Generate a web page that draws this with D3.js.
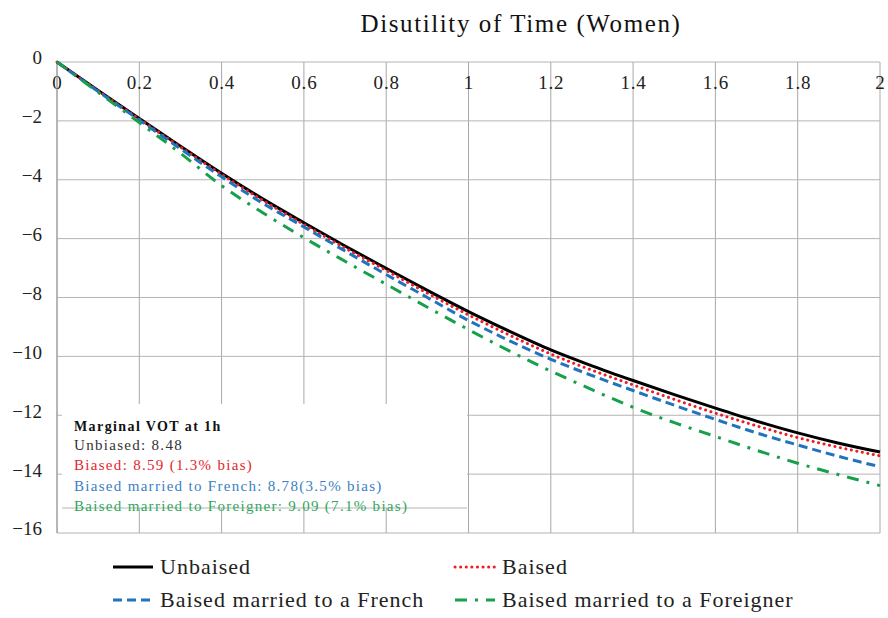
<!DOCTYPE html>
<html>
<head>
<meta charset="utf-8">
<script src="https://cdn.jsdelivr.net/npm/d3@7"></script>
<style>
  body { margin: 0; background: #fff; }
  text { font-family: 'Liberation Serif', 'DejaVu Serif', serif; }
</style>
</head>
<body>
<div id="chart"></div>
<script>
const hours = [0, 0.1, 0.2, 0.3, 0.4, 0.5, 0.6, 0.7, 0.8, 0.9, 1.0, 1.1, 1.2, 1.3, 1.4, 1.5, 1.6, 1.7, 1.8, 1.9, 2.0];
const unbiased = [0, -0.97, -1.92, -2.86, -3.78, -4.65, -5.46, -6.25, -7.01, -7.76, -8.48, -9.15, -9.78, -10.32, -10.82, -11.3, -11.76, -12.2, -12.6, -12.95, -13.25];
const biased = [0, -0.98, -1.94, -2.89, -3.82, -4.7, -5.52, -6.32, -7.08, -7.85, -8.59, -9.28, -9.92, -10.47, -10.97, -11.46, -11.93, -12.36, -12.76, -13.09, -13.38];
const biasedFrench = [0, -1.0, -1.97, -2.95, -3.9, -4.8, -5.6, -6.42, -7.22, -8.0, -8.78, -9.47, -10.1, -10.65, -11.16, -11.66, -12.14, -12.6, -13.01, -13.4, -13.75];
const biasedForeigner = [0, -1.03, -2.06, -3.1, -4.2, -5.12, -5.97, -6.77, -7.55, -8.33, -9.09, -9.82, -10.5, -11.13, -11.73, -12.25, -12.72, -13.19, -13.63, -14.02, -14.39];

const xTicks = [0, 0.2, 0.4, 0.6, 0.8, 1, 1.2, 1.4, 1.6, 1.8, 2];
const yTicks = [0, -2, -4, -6, -8, -10, -12, -14, -16];

const noteLines = [
  'Unbiased: 8.48',
  'Biased: 8.59 (1.3% bias)',
  'Biased married to French: 8.78(3.5% bias)',
  'Baised married to Foreigner: 9.09 (7.1% bias)'
];

const series = [
  { name: 'Unbaised', values: unbiased, color: '#000000', dash: null, cap: 'butt' },
  { name: 'Baised', values: biased, color: '#ee1c25', dash: '0.1 5.5', cap: 'round' },
  { name: 'Baised married to a French', values: biasedFrench, color: '#1f74bd', dash: '9 5', cap: 'butt' },
  { name: 'Baised married to a Foreigner', values: biasedForeigner, color: '#16a04c', dash: '12 8 3 8', cap: 'butt' }
];
const noteColors = ['#333333', '#e3262d', '#3b80c2', '#2ea75b'];

const width = 888, height = 618;
const margin = { top: 62, left: 57, right: 8, bottom: 85 };
const innerW = 880 - margin.left;
const innerH = 533 - margin.top;

const svg = d3.select('#chart').append('svg')
  .attr('width', width)
  .attr('height', height);

const g = svg.append('g')
  .attr('transform', `translate(${margin.left}, ${margin.top})`);

const x = d3.scaleLinear().domain([0, 2]).range([0, innerW]);
const y = d3.scaleLinear().domain([-16, 0]).range([innerH, 0]);

// title
svg.append('text')
  .attr('x', 521)
  .attr('y', 32)
  .attr('text-anchor', 'middle')
  .style('font-size', '25px')
  .style('letter-spacing', '1.6px')
  .style('fill', '#111')
  .text('Disutility of Time (Women)');

// grid
g.append('g')
  .selectAll('line')
  .data(xTicks)
  .join('line')
  .attr('x1', d => x(d)).attr('x2', d => x(d))
  .attr('y1', 0).attr('y2', innerH)
  .attr('stroke', '#a8a8a8')
  .attr('stroke-width', 1);

g.append('g')
  .selectAll('line')
  .data(yTicks)
  .join('line')
  .attr('x1', 0).attr('x2', innerW)
  .attr('y1', d => y(d)).attr('y2', d => y(d))
  .attr('stroke', '#b4b4b4')
  .attr('stroke-width', 1);

// x axis labels (sit just under the zero line)
const xAxis = g.append('g')
  .call(d3.axisBottom(x).tickValues(xTicks).tickSize(0).tickPadding(14).tickFormat(d3.format('')));
xAxis.select('.domain').remove();
xAxis.selectAll('text')
  .style('font-family', "'Liberation Serif', serif")
  .style('font-size', '19px')
  .style('letter-spacing', '0.8px')
  .style('fill', '#222');

const yAxis = g.append('g')
  .call(d3.axisLeft(y).tickValues(yTicks).tickSize(0).tickPadding(15).tickFormat(d3.format('')));
yAxis.select('.domain').remove();
yAxis.selectAll('text')
  .style('font-family', "'Liberation Serif', serif")
  .style('font-size', '19px')
  .style('fill', '#222')
  .attr('dy', '0.1em');

// left axis line
g.append('line')
  .attr('x1', 0).attr('x2', 0).attr('y1', 0).attr('y2', innerH)
  .attr('stroke', '#9a9a9a');

// lines
const line = d3.line()
  .x((d, i) => x(hours[i]))
  .y(d => y(d))
  .curve(d3.curveMonotoneX);

g.append('g')
  .selectAll('path')
  .data(series)
  .join('path')
  .attr('d', d => line(d.values))
  .attr('fill', 'none')
  .attr('stroke', d => d.color)
  .attr('stroke-width', 3)
  .attr('stroke-linecap', d => d.cap)
  .attr('stroke-dasharray', d => d.dash);

// annotation box
const note = svg.append('g');
note.append('rect')
  .attr('x', 62).attr('y', 404)
  .attr('width', 405).attr('height', 104)
  .attr('fill', '#fff');
note.append('line')
  .attr('x1', 62).attr('x2', 467).attr('y1', 508).attr('y2', 508)
  .attr('stroke', '#b4b4b4');
note.append('text')
  .attr('x', 74).attr('y', 431)
  .style('font-size', '14px')
  .style('font-weight', 'bold')
  .style('letter-spacing', '1.4px')
  .style('fill', '#111')
  .text('Marginal VOT at 1h');
note.selectAll('text.n')
  .data(noteLines)
  .join('text')
  .attr('class', 'n')
  .attr('x', 74)
  .attr('y', (d, i) => 450 + i * 20.3)
  .style('font-size', '15px')
  .style('letter-spacing', '1.3px')
  .style('fill', (d, i) => noteColors[i])
  .text(d => d);

// legend
const legendPos = [
  { x: 113, y: 567 }, { x: 455, y: 567 },
  { x: 113, y: 600 }, { x: 455, y: 600 }
];
const legend = svg.append('g')
  .selectAll('g')
  .data(series)
  .join('g')
  .attr('transform', (d, i) => `translate(${legendPos[i].x}, ${legendPos[i].y})`);

legend.append('line')
  .attr('x1', 0).attr('x2', 40)
  .attr('y1', 0).attr('y2', 0)
  .attr('stroke', d => d.color)
  .attr('stroke-width', 3)
  .attr('stroke-linecap', d => d.cap)
  .attr('stroke-dasharray', d => d.dash);

legend.append('text')
  .attr('x', 47)
  .attr('y', 7)
  .style('font-size', '22px')
  .style('letter-spacing', '1px')
  .style('fill', '#222')
  .text(d => d.name);
</script>
</body>
</html>
